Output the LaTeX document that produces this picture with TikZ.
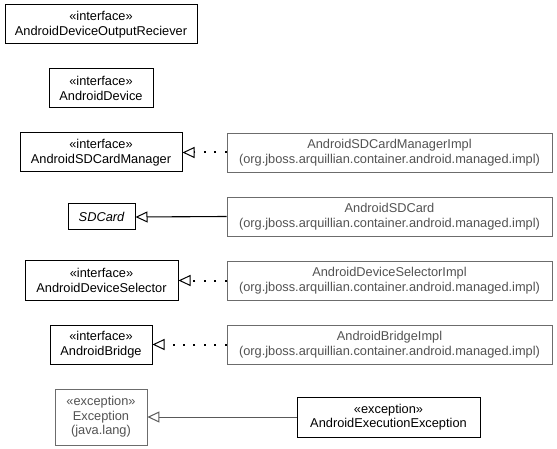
\documentclass[tikz,border=0pt]{standalone}
\usepackage{fontspec}
\setmainfont{Liberation Sans}
\usetikzlibrary{arrows.meta}
\tikzset{
  cls/.style={draw=black, line width=1pt, fill=white, align=center, inner sep=2pt, font=\fontsize{12.8}{14.5}\selectfont},
  ext/.style={cls, draw=gray!85!black, text=gray!65!black, line width=0.8pt},
  realize/.style={line width=2pt, dash pattern=on 2pt off 8.4pt, -{Triangle[open, length=12pt, width=11pt, line width=1pt]}},
  inherit/.style={line width=1.1pt, -{Triangle[open, length=12pt, width=11pt, line width=1pt]}},
}
\begin{document}
\begin{tikzpicture}[x=1pt, y=-1pt]
				\def\gx{101} % centre colonne gauche
				\def\ix{389.5} % centre colonne impl
				\def\pk{(org.jboss.arquillian.container.android.managed.impl)}
				\useasboundingbox (0,0) rectangle (557,449);
				% interfaces
				\node[cls, minimum width=192pt, minimum height=39pt] (outrec) at (\gx,24.5) {«interface»\\AndroidDeviceOutputReciever};
				\node[cls, minimum width=104pt, minimum height=39pt] (device) at (\gx,88.5) {«interface»\\AndroidDevice};
				\node[cls, minimum width=162pt, minimum height=39pt] (sdman) at (\gx,152.5) {«interface»\\AndroidSDCardManager};
				\node[cls, minimum width=67pt, minimum height=26pt, font=\fontsize{12.8}{14.5}\selectfont\itshape] (sdcard) at (101.5,217) {SDCard};
				\node[cls, minimum width=153pt, minimum height=39pt] (selector) at (101.5,280.5) {«interface»\\AndroidDeviceSelector};
				\node[cls, minimum width=102pt, minimum height=39pt] (bridge) at (\gx,344.5) {«interface»\\AndroidBridge};
				\node[ext, minimum width=92pt, minimum height=56pt] (exc) at (\gx,417) {«exception»\\Exception\\(java.lang)};
				% impl
				\node[ext, minimum width=325pt, minimum height=39pt] (sdmanimpl) at (\ix,152.5) {AndroidSDCardManagerImpl\\\pk};
				\node[ext, minimum width=325pt, minimum height=39pt] (sdcardimpl) at (\ix,216.5) {AndroidSDCard\\\pk};
				\node[ext, minimum width=325pt, minimum height=39pt] (selectorimpl) at (\ix,280.5) {AndroidDeviceSelectorImpl\\\pk};
				\node[ext, minimum width=325pt, minimum height=39pt] (bridgeimpl) at (\ix,344.5) {AndroidBridgeImpl\\\pk};
				\node[cls, minimum width=183pt, minimum height=40pt] (execexc) at (388.5,417) {«exception»\\AndroidExecutionException};
				% liens
				\draw[realize] (sdmanimpl) -- (sdman);
				\draw[inherit] (sdcardimpl.west) -- (sdcard.east);
				\draw[realize] (selectorimpl) -- (selector);
				\draw[realize] (bridgeimpl) -- (bridge);
				\draw[inherit, line width=0.9pt, draw=gray!70!black] (execexc) -- (exc);
\end{tikzpicture}
\end{document}
